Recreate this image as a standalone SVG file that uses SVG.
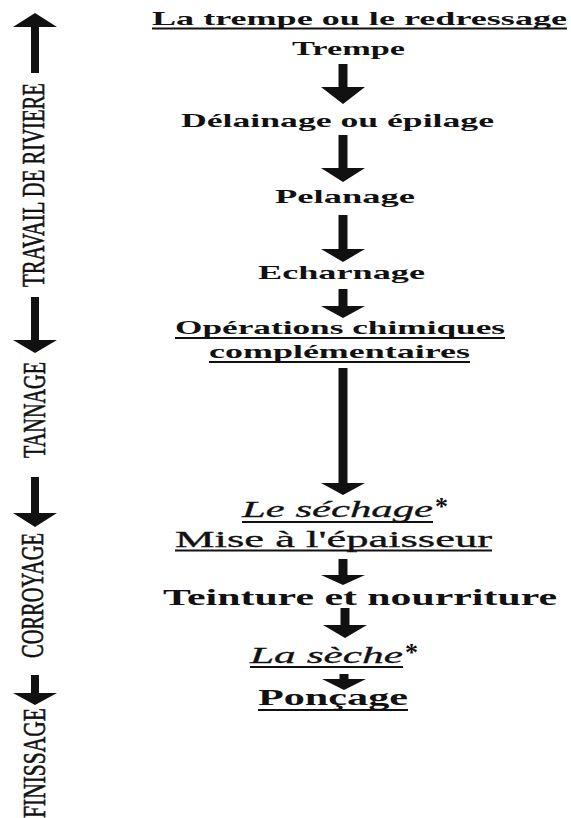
<svg xmlns="http://www.w3.org/2000/svg" width="571" height="818" viewBox="0 0 571 818">
<style>
.b{font-family:"Liberation Serif","Times New Roman",serif;font-weight:bold;fill:#111}
.r{font-family:"Liberation Serif","Times New Roman",serif;font-weight:normal;fill:#111;stroke:#111;stroke-width:0.3}
.i{font-family:"Liberation Serif","Times New Roman",serif;font-style:italic;fill:#111;stroke:#111;stroke-width:0.3}
.v{font-family:"Liberation Serif","Times New Roman",serif;font-size:32px;fill:#111;stroke:#111;stroke-width:0.6}
.u{stroke:#111;stroke-width:1.8}
.a{fill:#111}
</style>
<rect width="571" height="818" fill="#fff"/>
<g id="phases">
<g id="p-riviere"><text class="v" transform="translate(44,287) rotate(-90)" textLength="204" lengthAdjust="spacingAndGlyphs">TRAVAIL DE RIVIERE</text></g>
<g id="p-tannage"><text class="v" transform="translate(45,458) rotate(-90)" textLength="96" lengthAdjust="spacingAndGlyphs">TANNAGE</text></g>
<g id="p-corroyage"><text class="v" transform="translate(43,658) rotate(-90)" textLength="125" lengthAdjust="spacingAndGlyphs">CORROYAGE</text></g>
<g id="p-finissage"><text class="v" transform="translate(45,818) rotate(-90)" textLength="110" lengthAdjust="spacingAndGlyphs">FINISSAGE</text></g>
</g>
<g id="n1"><text class="b" x="152" y="25" font-size="19" textLength="415" lengthAdjust="spacingAndGlyphs">La trempe ou le redressage</text><line class="u" x1="152" y1="28.5" x2="567" y2="28.5"/></g>
<g id="n2"><text class="b" x="292" y="55" font-size="19" textLength="113" lengthAdjust="spacingAndGlyphs">Trempe</text></g>
<g id="n3"><text class="b" x="181" y="127" font-size="19" textLength="313" lengthAdjust="spacingAndGlyphs">Délainage ou épilage</text></g>
<g id="n4"><text class="b" x="275" y="203" font-size="19" textLength="140" lengthAdjust="spacingAndGlyphs">Pelanage</text></g>
<g id="n5"><text class="b" x="258" y="279" font-size="19" textLength="167" lengthAdjust="spacingAndGlyphs">Echarnage</text></g>
<g id="n6"><text class="b" x="175" y="334" font-size="19" textLength="330" lengthAdjust="spacingAndGlyphs">Opérations chimiques</text><line class="u" x1="175" y1="338" x2="505" y2="338"/>
<text class="b" x="209" y="358" font-size="19" textLength="261" lengthAdjust="spacingAndGlyphs">complémentaires</text><line class="u" x1="209" y1="362" x2="470" y2="362"/></g>
<g id="n7"><text class="i" x="242" y="517" font-size="24" textLength="191" lengthAdjust="spacingAndGlyphs">Le séchage</text><line class="u" x1="242" y1="522" x2="433" y2="522"/><text class="b" x="435" y="515" font-size="26">*</text></g>
<g id="n8"><text class="r" x="175" y="547" font-size="23" textLength="317" lengthAdjust="spacingAndGlyphs">Mise à l'épaisseur</text><line class="u" x1="175" y1="550.5" x2="492" y2="550.5"/></g>
<g id="n9"><text class="b" x="163" y="605" font-size="24" textLength="394" lengthAdjust="spacingAndGlyphs">Teinture et nourriture</text></g>
<g id="n10"><text class="i" x="250" y="663" font-size="24" textLength="153" lengthAdjust="spacingAndGlyphs">La sèche</text><line class="u" x1="250" y1="667" x2="403" y2="667"/><text class="b" x="405" y="661" font-size="26">*</text></g>
<g id="n11"><text class="b" x="258" y="705" font-size="23" textLength="150" lengthAdjust="spacingAndGlyphs">Ponçage</text><line class="u" x1="258" y1="710" x2="408" y2="710"/></g>
<g id="connectors">
<path class="a" d="M35,13 L57,27 L39,27 L39,73 L31,73 L31,27 L13,27 Z"/>
<path class="a" d="M31,297 L39,297 L39,340 L57,340 L35,353 L13,340 L31,340 Z"/>
<path class="a" d="M31,477 L39,477 L39,513 L57,513 L35,527 L13,513 L31,513 Z"/>
<path class="a" d="M31,675 L39,675 L39,693 L57,693 L35,705 L13,693 L31,693 Z"/>
<path class="a" d="M338.5,64 L347.5,64 L347.5,87 L365,87 L343,104 L321,87 L338.5,87 Z"/>
<path class="a" d="M338.5,135 L347.5,135 L347.5,168 L365,168 L343,182 L321,168 L338.5,168 Z"/>
<path class="a" d="M338.5,215 L347.5,215 L347.5,249 L365,249 L343,262 L321,249 L338.5,249 Z"/>
<path class="a" d="M338.5,289 L347.5,289 L347.5,306 L365,306 L343,318 L321,306 L338.5,306 Z"/>
<path class="a" d="M338.5,368 L347.5,368 L347.5,483 L365,483 L343,495 L321,483 L338.5,483 Z"/>
<path class="a" d="M338.5,559 L347.5,559 L347.5,575 L365,575 L343,585 L321,575 L338.5,575 Z"/>
<path class="a" d="M340.5,608 L349.5,608 L349.5,625 L367,625 L345,638 L323,625 L340.5,625 Z"/>
<path class="a" d="M339.5,674 L348.5,674 L348.5,679 L366,679 L344,690 L322,679 L339.5,679 Z"/>
</g>
</svg>
